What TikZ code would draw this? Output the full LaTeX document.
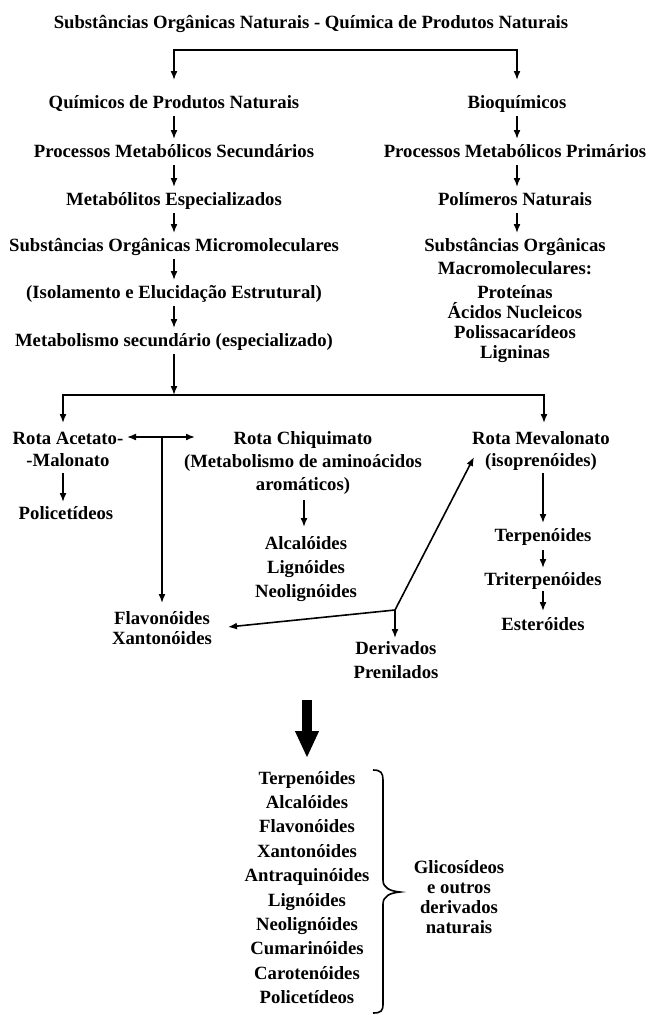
\documentclass[tikz,border=0pt]{standalone}
\usepackage{fontspec}
\setmainfont{Liberation Serif}
\usetikzlibrary{arrows.meta,calc}
\begin{document}
\begin{tikzpicture}[x=1pt,y=-1pt,
  txt/.style={inner sep=0pt, anchor=base, align=center, font=\fontsize{18.7}{#1}\selectfont\bfseries},
  txt/.default=22,
  arr/.style={line width=1.6pt, -{Latex[length=9pt,width=7pt]}},
  dbl/.style={line width=1.6pt, {Latex[length=9pt,width=7pt]}-{Latex[length=9pt,width=7pt]}},
  plain/.style={line width=1.6pt}]
\fill[white] (0,0) rectangle (653,1015);
\useasboundingbox (0,0) rectangle (653,1015);

% upper part (multi-line nodes are placed at the baseline of their last line)
\node[txt] (title) at (311,28) {Substâncias Orgânicas Naturais - Química de Produtos Naturais};
\node[txt] (qpn) at (174,108) {Químicos de Produtos Naturais};
\node[txt] (bio) at (517,108) {Bioquímicos};
\node[txt] (ps) at (174,157) {Processos Metabólicos Secundários};
\node[txt] (pp) at (515,157) {Processos Metabólicos Primários};
\node[txt] (me) at (174,205) {Metabólitos Especializados};
\node[txt] (pn) at (515,205) {Polímeros Naturais};
\node[txt] (sm) at (174,251) {Substâncias Orgânicas Micromoleculares};
\node[txt=23] (smac) at (515,274) {Substâncias Orgânicas\\Macromoleculares:};
\node[txt=20] (macl) at (515,358) {Proteínas\\Ácidos Nucleicos\\Polissacarídeos\\Ligninas};
\node[txt] (ie) at (174,298) {(Isolamento e Elucidação Estrutural)};
\node[txt] (ms) at (174,346) {Metabolismo secundário (especializado)};

% lower part
\node[txt=22] (ra) at (68,466) {Rota Acetato-\\-Malonato};
\node[txt=23] (rc) at (303,490) {Rota Chiquimato\\(Metabolismo de aminoácidos\\aromáticos)};
\node[txt=22] (rmv) at (541,466) {Rota Mevalonato\\(isoprenóides)};
\node[txt] (pol) at (66,519) {Policetídeos};
\node[txt=24] (alc) at (306,597) {Alcalóides\\Lignóides\\Neolignóides};
\node[txt] (terp) at (543,541) {Terpenóides};
\node[txt] (tri) at (543,585) {Triterpenóides};
\node[txt] (est) at (543,630) {Esteróides};
\node[txt=20] (flx) at (162,644) {Flavonóides\\Xantonóides};
\node[txt=24] (dp) at (396,678) {Derivados\\Prenilados};
\node[txt=24.4] (list) at (307,1003.6) {Terpenóides\\Alcalóides\\Flavonóides\\Xantonóides\\Antraquinóides\\Lignóides\\Neolignóides\\Cumarinóides\\Carotenóides\\Policetídeos};
\node[txt=20] (glic) at (459,933) {Glicosídeos\\e outros\\derivados\\naturais};

% top split
\draw[dbl] ($(qpn.base)+(0,-28)$) |- ($(bio.base)+(0,-58)$) -- ($(bio.base)+(0,-28)$);
% left column
\draw[arr] ($(qpn.base)+(0,8)$) -- ($(ps.base)+(0,-18)$);
\draw[arr] ($(ps.base)+(0,8)$) -- ($(me.base)+(0,-18)$);
\draw[arr] ($(me.base)+(0,8)$) -- ($(sm.base)+(0,-18)$);
\draw[arr] ($(sm.base)+(0,8)$) -- ($(ie.base)+(0,-18)$);
\draw[arr] ($(ie.base)+(0,8)$) -- ($(ms.base)+(0,-18)$);
% right column
\draw[arr] ($(bio.base)+(0,8)$) -- ($(pp.base)+(2,-18)$);
\draw[arr] ($(pp.base)+(2,8)$) -- ($(pn.base)+(2,-18)$);
\draw[arr] ($(pn.base)+(2,8)$) -- ($(smac.base)+(2,-41)$);

% second split
\coordinate (spl) at ($(ms.base)+(0,49)$);
\draw[arr] ($(ms.base)+(0,8)$) -- (spl);
\draw[dbl] ($(ra.base)+(-5,-43)$) |- ($(rmv.base)+(3,-71)$) -- ($(rmv.base)+(3,-43)$);

% pathways
\draw[arr] ($(ra.base)+(-5,7)$) -- ($(pol.base)+(-3,-17)$);
\draw[dbl] ($(ra.base)+(59,-29)$) -- ($(ra.base)+(127,-29)$);
\draw[arr] ($(ra.base)+(94,-29)$) -- ($(flx.base)+(0,-41)$);
\draw[arr] ($(rc.base)+(1,10)$) -- ($(alc.base)+(-2,-70)$);
\draw[arr] ($(rmv.base)+(2,7)$) -- ($(terp.base)+(0,-18)$);
\draw[arr] ($(terp.base)+(0,9)$) -- ($(tri.base)+(0,-17)$);
\draw[arr] ($(tri.base)+(0,6)$) -- ($(est.base)+(0,-19)$);

% junction
\coordinate (jn) at ($(dp.base)+(-1,-68)$);
\draw[arr] (jn) -- ($(dp.base)+(-1,-40)$);
\draw[arr] (jn) -- ($(flx.base)+(66,-17)$);
\draw[arr] (jn) -- ($(rmv.base)+(-67,-9)$);

% big arrow
\draw[line width=10pt, -{Triangle[width=22pt,length=27pt]}] ($(list.base)+(0,-303.6)$) -- ($(list.base)+(0,-245.6)$);

% brace
\begin{scope}[shift={($(list.base)+(0,-219.6)$)}]
\draw[line width=1.6pt] (66,-14) .. controls (74,-14) and (76,-11) .. (76,-4) -- (76,96)
  .. controls (76,104) and (83,107) .. (93,108) .. controls (83,109) and (76,112) .. (76,120)
  -- (76,220) .. controls (76,227) and (74,229) .. (66,229);
\end{scope}
\end{tikzpicture}
\end{document}
